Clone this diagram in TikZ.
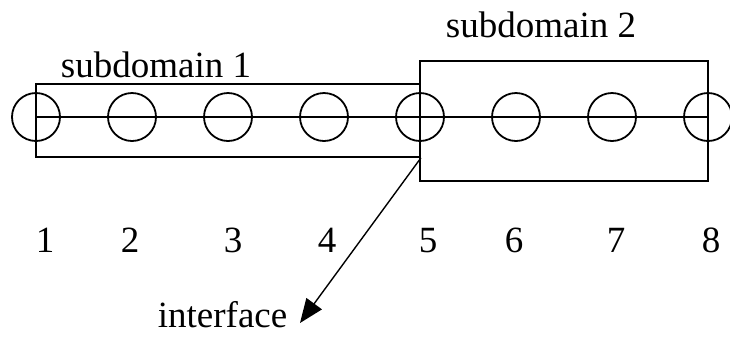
\documentclass[tikz,border=0pt]{standalone}
\usepackage{fontspec}
\setmainfont{Liberation Serif}
\usetikzlibrary{arrows.meta}
\begin{document}
\begin{tikzpicture}[x=1pt,y=-1pt,line width=1.8pt,
    every node/.style={font=\fontsize{37}{44}\selectfont},
    ball/.style={draw,circle,minimum size=48pt,inner sep=0pt},
    subbox/.style={draw,rectangle,inner sep=0pt}]
  \useasboundingbox (0,0) rectangle (730,341);
  % the two subdomains
  \node[subbox,minimum width=384pt,minimum height=73pt] (sub1) at (228,120.5) {};
  \node[subbox,minimum width=288pt,minimum height=120pt] (sub2) at (564,121) {};
  \node[anchor=base west,inner sep=0pt] (lab1) at (60,77) {subdomain 1};
  \node[anchor=base west,inner sep=0pt] (lab2) at (445,37) {subdomain 2};
  % grid points
  \draw
    (36,117) node[ball] (c1){}
    (132,117) node[ball] (c2){}
    (228,117) node[ball] (c3){}
    (324,117) node[ball] (c4){}
    (420,117) node[ball] (c5){}
    (516,117) node[ball] (c6){}
    (612,117) node[ball] (c7){}
    (708,117) node[ball] (c8){};
  \draw (c1.center) -- (c8.center);
  % point numbers
  \draw
    (45,252) node[anchor=base] (n1){1}
    (130,252) node[anchor=base] (n2){2}
    (233,252) node[anchor=base] (n3){3}
    (327,252) node[anchor=base] (n4){4}
    (428,252) node[anchor=base] (n5){5}
    (514,252) node[anchor=base] (n6){6}
    (616,252) node[anchor=base] (n7){7}
    (711,252) node[anchor=base] (n8){8};
  \node[anchor=base west,inner sep=0pt] (iface) at (157,327) {interface};
  \coordinate (tip) at (300,323);
  \draw[line width=1.4pt,-{Triangle[length=24pt,width=19pt]}] (sub1.south east) -- (tip);
\end{tikzpicture}
\end{document}
